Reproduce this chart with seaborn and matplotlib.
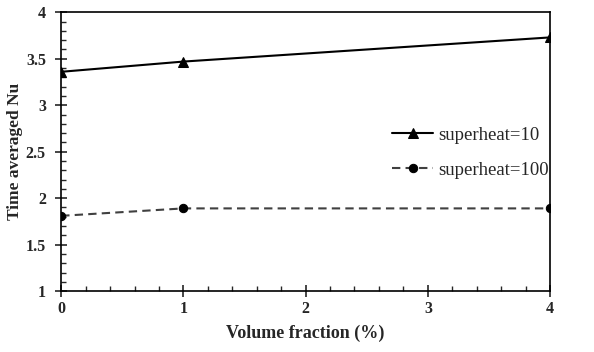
import pandas as pd
import numpy as np
import matplotlib.pyplot as plt
import seaborn as sns
from matplotlib.ticker import MultipleLocator

# Data
volume_fraction = [0, 1, 4]
nu_superheat_10 = [3.36, 3.47, 3.73]
nu_superheat_100 = [1.81, 1.89, 1.89]

sns.set_style('white')
plt.rcParams['font.family'] = ['Liberation Serif', 'DejaVu Serif']

fig, ax = plt.subplots(figsize=(5.94, 3.52), dpi=100)

sns.lineplot(x=volume_fraction, y=nu_superheat_10, ax=ax, color='black',
             marker='^', markersize=7, markeredgecolor='black', linewidth=1.5,
             label='superheat=10')
sns.lineplot(x=volume_fraction, y=nu_superheat_100, ax=ax, color='#404040',
             marker='o', markersize=6, markerfacecolor='black', markeredgecolor='black',
             linewidth=1.5, dashes=(4, 2.5), label='superheat=100')

ax.set_xlim(0, 4)
ax.set_ylim(1, 4)
ax.xaxis.set_major_locator(MultipleLocator(1))
ax.xaxis.set_minor_locator(MultipleLocator(0.2))
ax.yaxis.set_minor_locator(MultipleLocator(0.1))
ax.set_yticks([1, 1.5, 2, 2.5, 3, 3.5, 4])
ax.set_yticklabels(['1', '1.5', '2', '2.5', '3', '3.5', '4'])

ax.tick_params(axis='both', which='major', direction='inout', length=8, width=1.2,
               labelsize=11.5, bottom=True, left=True)
ax.tick_params(axis='y', which='major', pad=7)
ax.tick_params(axis='x', which='major', pad=3)
ax.tick_params(axis='both', which='minor', direction='in', length=3.5, width=1.0,
               bottom=True, left=True)
for lbl in ax.get_xticklabels() + ax.get_yticklabels():
    lbl.set_fontweight('bold')

for s in ax.spines.values():
    s.set_color('black')
    s.set_linewidth(1.2)

ax.set_xlabel('Volume fraction (%)', fontsize=13, fontweight='bold', labelpad=6)
ax.set_ylabel('Time averaged Nu', fontsize=12.5, fontweight='bold', labelpad=2)

ax.legend(loc='center left', bbox_to_anchor=(0.677, 0.497), frameon=False,
          fontsize=13.5, handlelength=2.2, labelspacing=0.95, handletextpad=0.27,
          borderpad=0, borderaxespad=0)

plt.subplots_adjust(left=0.103, right=0.926, top=0.965, bottom=0.173)
plt.savefig('out.png', dpi=100)
